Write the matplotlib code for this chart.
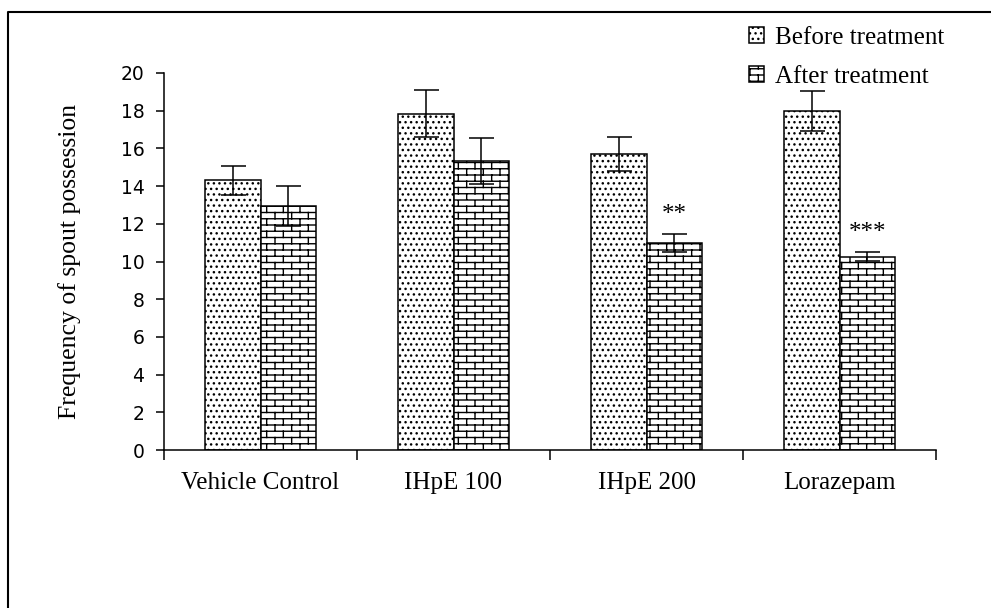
import numpy as np
import matplotlib
matplotlib.use('Agg')
import matplotlib.pyplot as plt
import matplotlib.hatch as mhatch
from matplotlib.path import Path
from matplotlib.lines import Line2D

groups = ['Vehicle Control', 'IHpE 100', 'IHpE 200', 'Lorazepam']
before = [14.3, 17.85, 15.7, 18.0]
before_err = [0.77, 1.25, 0.88, 1.07]
after = [12.95, 15.35, 11.0, 10.25]
after_err = [1.05, 1.22, 0.47, 0.23]
signif = ['', '', '**', '***']
series = ['Before treatment', 'After treatment']

serif = 'Liberation Serif'
fs = 18


# brick pattern for the 'after' bars, takes the place of the '*' hatch
class BrickHatch(mhatch.HatchPatternBase):
    def __init__(self, hatch, density):
        self.segs = []
        if '*' in hatch:
            rows, cols = 16, 6
            for r in range(rows + 1):
                self.segs.append(((0, r / rows), (1, r / rows)))
            for r in range(rows):
                off = 0.0 if r % 2 == 0 else 0.5
                for j in range(cols + 1):
                    x = (j + off) / cols
                    if x <= 1:
                        self.segs.append(((x, r / rows), (x, (r + 1) / rows)))
        self.num_vertices = 2 * len(self.segs)

    def set_vertices_and_codes(self, vertices, codes):
        segs = np.array(self.segs)
        vertices[0::2] = segs[:, 0]
        vertices[1::2] = segs[:, 1]
        codes[0::2] = Path.MOVETO
        codes[1::2] = Path.LINETO


mhatch._hatch_types = [h for h in mhatch._hatch_types if h is not mhatch.Stars] + [BrickHatch]
plt.rcParams['hatch.linewidth'] = 1.0

fig = plt.figure(figsize=(9.91, 6.08), dpi=100)
ax = fig.add_axes([164 / 991, 1 - 450 / 608, (936 - 164) / 991, (450 - 73) / 608])

x = np.arange(len(groups))
w = 0.29
b1 = ax.bar(x - w / 2, before, w, color='white', edgecolor='black', linewidth=1.1,
            hatch='...', label=series[0])
b2 = ax.bar(x + w / 2, after, w, color='white', edgecolor='black', linewidth=1.1,
            hatch='*', label=series[1])
ax.errorbar(x - w / 2, before, yerr=before_err, fmt='none', ecolor='black',
            elinewidth=1.1, capsize=9, capthick=1.1, zorder=5)
ax.errorbar(x + w / 2, after, yerr=after_err, fmt='none', ecolor='black',
            elinewidth=1.1, capsize=9, capthick=1.1, zorder=5)

for i, s in enumerate(signif):
    if s:
        ax.text(x[i] + w / 2, after[i] + after_err[i] + 0.7, s, ha='center', va='baseline',
                fontsize=fs, family=serif)

ax.set_xlim(-0.5, len(groups) - 0.5)
ax.set_ylim(0, 20)
ax.set_yticks(np.arange(0, 21, 2))
ax.tick_params(axis='y', direction='out', length=6, width=1.1, pad=8, labelsize=13.5)
for t in ax.get_yticklabels():
    t.set_family('DejaVu Sans')

ax.set_xticks(np.arange(len(groups) + 1) - 0.5)
ax.set_xticklabels([])
ax.set_xticks(x, minor=True)
ax.set_xticklabels(groups, minor=True, fontsize=fs, family=serif)
ax.tick_params(axis='x', which='major', direction='out', length=7, width=1.1)
ax.tick_params(axis='x', which='minor', length=0, pad=16)

for side in ['top', 'right']:
    ax.spines[side].set_visible(False)
for side in ['left', 'bottom']:
    ax.spines[side].set_linewidth(1.1)

ax.set_ylabel('Frequency of spout possession', fontsize=fs + 0.5, family=serif)
ax.yaxis.set_label_coords(-0.108, 0.5)

fig.legend(handles=[b1, b2], loc='upper left', bbox_to_anchor=(749 / 991, 1 - 27 / 608),
           frameon=False, prop={'family': serif, 'size': fs}, handlelength=0.6,
           handleheight=0.6, handletextpad=0.45, labelspacing=0.68, borderpad=0,
           borderaxespad=0)

# outer frame, only left and top edges are inside the picture
fig.add_artist(Line2D([8 / 991, 8 / 991, 1], [0, 1 - 12 / 608, 1 - 12 / 608],
                      transform=fig.transFigure, color='black', linewidth=1.5))

fig.savefig('out.png', dpi=100)
